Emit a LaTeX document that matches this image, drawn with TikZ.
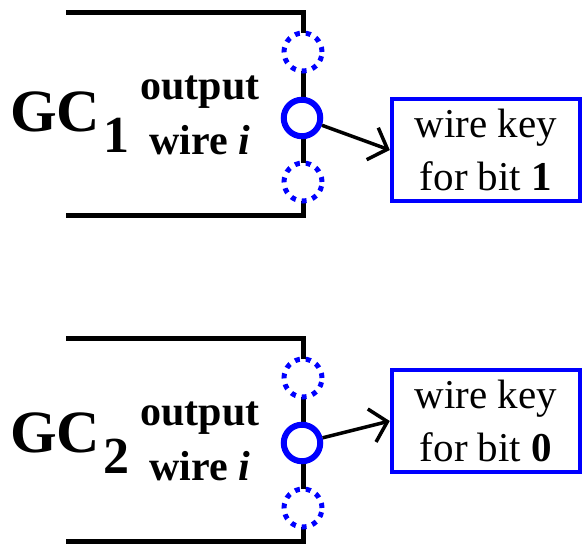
\documentclass[tikz,border=0pt]{standalone}
\usepackage{fontspec}
\setmainfont{Liberation Serif}
\usetikzlibrary{arrows.meta}
\begin{document}
\begin{tikzpicture}[x=1pt,y=-1pt,
  bracket/.style={line width=5pt},
  wirecirc/.style={circle,draw=blue,line width=6pt,fill=white,minimum size=36.5pt,inner sep=0pt},
  ghostcirc/.style={circle,draw=blue,line width=5pt,dash pattern=on 5pt off 6pt,fill=white,minimum size=38pt,inner sep=0pt},
  keybox/.style={draw=blue,line width=4.5pt,minimum width=188pt,minimum height=102pt,inner sep=0pt,align=center,font=\fontsize{41}{53}\selectfont},
  gclabel/.style={anchor=base west,inner sep=0pt,font=\bfseries\fontsize{60}{60}\selectfont},
  wlabel/.style={anchor=base,inner sep=0pt,font=\bfseries\fontsize{42}{42}\selectfont},
  keyarrow/.style={line width=3.5pt,-{Straight Barb[length=16pt,width=34pt,line width=3.5pt]}}
]
\useasboundingbox (0,0) rectangle (583,545);
% ---- top circuit ----
\coordinate (t1a) at (66,13);
\coordinate (t1b) at (303,13);
\coordinate (t1c) at (303,216);
\coordinate (t1d) at (66,216);
\draw[bracket] (t1a) -- (t1b) -- (t1c) -- (t1d);
\node[ghostcirc] (g1u) at (303,52) {};
\node[wirecirc] (c1) at (302,118) {};
\node[ghostcirc] (g1d) at (303,182) {};
\node[gclabel] (gc1) at (10,132) {GC\kern3pt\raisebox{-21pt}{\fontsize{52}{52}\selectfont 1}};
\node[wlabel] (o1) at (200,100) {output};
\node[wlabel] (w1) at (200,155) {wire \textit{i}};
\node[keybox] (b1) at (486,150) {wire key\\for bit \textbf{1}};
\draw[keyarrow] (c1) -- (b1.west);
% ---- bottom circuit ----
\coordinate (t2a) at (66,338);
\coordinate (t2b) at (303,338);
\coordinate (t2c) at (303,541);
\coordinate (t2d) at (66,541);
\draw[bracket] (t2a) -- (t2b) -- (t2c) -- (t2d);
\node[ghostcirc] (g2u) at (303,378) {};
\node[wirecirc] (c2) at (302,443) {};
\node[ghostcirc] (g2d) at (303,508) {};
\node[gclabel] (gc2) at (10,452) {GC\kern3pt\raisebox{-21pt}{\fontsize{52}{52}\selectfont 2}};
\node[wlabel] (o2) at (200,425) {output};
\node[wlabel] (w2) at (200,480) {wire \textit{i}};
\node[keybox] (b2) at (486,421) {wire key\\for bit \textbf{0}};
\draw[keyarrow] (c2) -- (b2.west);
\end{tikzpicture}
\end{document}
